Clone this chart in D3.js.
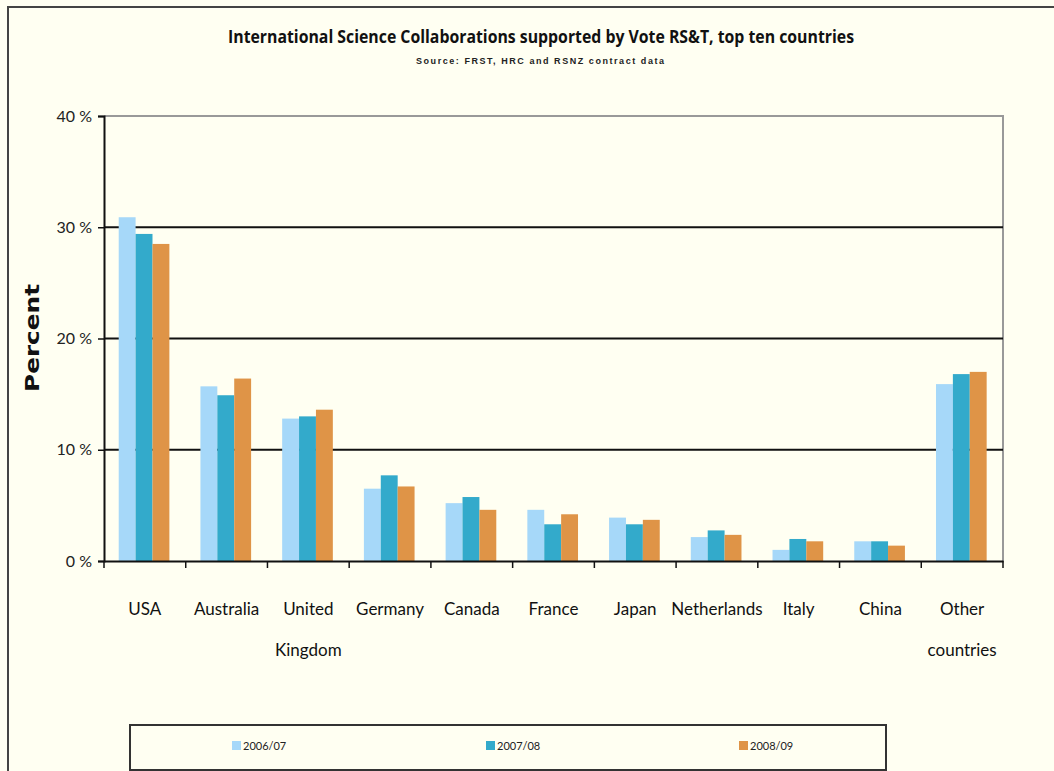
<!DOCTYPE html>
<html>
<head>
<meta charset="utf-8">
<script src="https://cdn.jsdelivr.net/npm/d3@7"></script>
<style>
  body { margin: 0; background: #fffff2; }
  svg { display: block; }
</style>
</head>
<body>
<script>
// categories and series
var countries = ["USA", "Australia", "United Kingdom", "Germany", "Canada", "France",
                 "Japan", "Netherlands", "Italy", "China", "Other countries"];
var labelLines = [["USA"], ["Australia"], ["United", "Kingdom"], ["Germany"], ["Canada"],
                  ["France"], ["Japan"], ["Netherlands"], ["Italy"], ["China"], ["Other", "countries"]];
var years = ["2006/07", "2007/08", "2008/09"];
var v2006 = [30.9, 15.7, 12.8, 6.5, 5.2, 4.6, 3.9, 2.15, 1.0, 1.77, 15.9];
var v2007 = [29.4, 14.9, 13.0, 7.7, 5.75, 3.3, 3.3, 2.75, 1.98, 1.77, 16.8];
var v2008 = [28.5, 16.4, 13.6, 6.7, 4.6, 4.2, 3.7, 2.35, 1.77, 1.38, 17.0];
var yTicks = [0, 10, 20, 30, 40];
var colors = ["#a6d8f9", "#33aacb", "#df9447"];

var series = [v2006, v2007, v2008];

var W = 1054, H = 771;
// note: "top" is taken by window.top, hence plotTop
var plotLeft = 104, plotRight = 1003, plotTop = 116, plotBottom = 561;
var labelFont = "Lato, 'Open Sans', sans-serif";

var svg = d3.select("body").append("svg")
    .attr("width", W)
    .attr("height", H);

// cream background + outer frame (right/bottom run off the page)
svg.append("rect").attr("width", W).attr("height", H).attr("fill", "#fffff2");
svg.append("path")
    .attr("d", "M8," + H + "V7H" + W)
    .attr("fill", "none")
    .attr("stroke", "#444")
    .attr("stroke-width", 2);

var x0 = d3.scaleBand().domain(countries).range([plotLeft, plotRight]);
var x1 = d3.scaleBand().domain(years)
    .range([x0.bandwidth() * 0.18, x0.bandwidth() * 0.8]);
var y = d3.scaleLinear().domain([0, 40]).range([plotBottom, plotTop]);

// plot border (top + right, grey)
svg.append("path")
    .attr("d", "M" + plotLeft + "," + plotTop + "H" + plotRight + "V" + plotBottom)
    .attr("fill", "none")
    .attr("stroke", "#999")
    .attr("stroke-width", 2);

// gridlines
svg.selectAll("line.grid")
    .data(yTicks.filter(function(t) { return t > 0 && t < 40; }))
    .enter().append("line")
    .attr("class", "grid")
    .attr("x1", plotLeft).attr("x2", plotRight)
    .attr("y1", function(d) { return y(d); })
    .attr("y2", function(d) { return y(d); })
    .attr("stroke", "#111")
    .attr("stroke-width", 2);

// bars
var groups = svg.selectAll("g.country")
    .data(countries)
    .enter().append("g")
    .attr("class", "country")
    .attr("transform", function(d) { return "translate(" + x0(d) + ",0)"; });

groups.selectAll("rect")
    .data(function(d, i) {
        return years.map(function(yr, j) { return { year: yr, value: series[j][i], k: j }; });
    })
    .enter().append("rect")
    .attr("x", function(d) { return x1(d.year); })
    .attr("width", x1.bandwidth())
    .attr("y", function(d) { return y(d.value); })
    .attr("height", function(d) { return plotBottom - y(d.value); })
    .attr("fill", function(d) { return colors[d.k]; });

// y axis
var yAxis = svg.append("g")
    .attr("transform", "translate(" + plotLeft + ",0)")
    .call(d3.axisLeft(y).tickValues(yTicks).tickSize(6).tickPadding(6)
        .tickFormat(function(d) { return d + " %"; }));
yAxis.select(".domain").attr("stroke", "#111").attr("stroke-width", 2);
yAxis.selectAll(".tick line").attr("stroke", "#111").attr("stroke-width", 1.5);
yAxis.selectAll(".tick text")
    .attr("font-family", labelFont)
    .attr("font-size", 16)
    .attr("fill", "#222");

// x axis (ticks at band edges, labels drawn below)
var xAxis = svg.append("g")
    .attr("transform", "translate(0," + plotBottom + ")")
    .call(d3.axisBottom(x0).tickSize(0).tickFormat(""));
xAxis.select(".domain").attr("stroke", "#111").attr("stroke-width", 2);
xAxis.selectAll(".tick").remove();

svg.selectAll("line.xtick")
    .data(countries.concat(["end"]))
    .enter().append("line")
    .attr("class", "xtick")
    .attr("x1", function(d, i) { return plotLeft + i * x0.bandwidth(); })
    .attr("x2", function(d, i) { return plotLeft + i * x0.bandwidth(); })
    .attr("y1", plotBottom)
    .attr("y2", plotBottom + 7)
    .attr("stroke", "#111")
    .attr("stroke-width", 1.5);

var labels = svg.selectAll("text.cat")
    .data(countries)
    .enter().append("text")
    .attr("class", "cat")
    .attr("text-anchor", "middle")
    .attr("font-family", labelFont)
    .attr("font-size", 17)
    .attr("fill", "#111");

labels.selectAll("tspan")
    .data(function(d, i) { return labelLines[i]; })
    .enter().append("tspan")
    .attr("x", function() {
        var c = d3.select(this.parentNode).datum();
        return x0(c) + x0.bandwidth() / 2;
    })
    .attr("y", function(d, i) { return 615 + i * 41; })
    .text(function(d) { return d; });

// y title
svg.append("text")
    .attr("transform", "translate(39,338) rotate(-90)")
    .attr("text-anchor", "middle")
    .attr("font-family", "'DejaVu Sans', sans-serif")
    .attr("font-weight", "bold")
    .attr("font-size", 19)
    .attr("textLength", 108)
    .attr("lengthAdjust", "spacingAndGlyphs")
    .attr("fill", "#111")
    .text("Percent");

// titles
svg.append("text")
    .attr("x", 541).attr("y", 43)
    .attr("text-anchor", "middle")
    .attr("font-family", "'Open Sans', sans-serif")
    .attr("font-weight", "bold")
    .attr("font-size", 17)
    .attr("textLength", 626)
    .attr("lengthAdjust", "spacingAndGlyphs")
    .attr("fill", "#111")
    .text("International Science Collaborations supported by Vote RS&T, top ten countries");

svg.append("text")
    .attr("x", 540).attr("y", 64)
    .attr("text-anchor", "middle")
    .attr("font-family", "'Liberation Sans', sans-serif")
    .attr("font-weight", "bold")
    .attr("font-size", 9)
    .attr("textLength", 248)
    .attr("lengthAdjust", "spacing")
    .attr("fill", "#222")
    .text("Source: FRST, HRC and RSNZ contract data");

// legend
svg.append("rect")
    .attr("x", 130).attr("y", 725)
    .attr("width", 756).attr("height", 45)
    .attr("fill", "#fffff2")
    .attr("stroke", "#333")
    .attr("stroke-width", 2);

var legendX = [232, 486, 739];
var leg = svg.selectAll("g.leg")
    .data(years)
    .enter().append("g")
    .attr("class", "leg")
    .attr("transform", function(d, i) { return "translate(" + legendX[i] + ",741)"; });
leg.append("rect")
    .attr("width", 9).attr("height", 9)
    .attr("fill", function(d, i) { return colors[i]; });
leg.append("text")
    .attr("x", 11).attr("y", 9)
    .attr("font-family", labelFont)
    .attr("font-size", 11)
    .attr("fill", "#222")
    .text(function(d) { return d; });
</script>
</body>
</html>
